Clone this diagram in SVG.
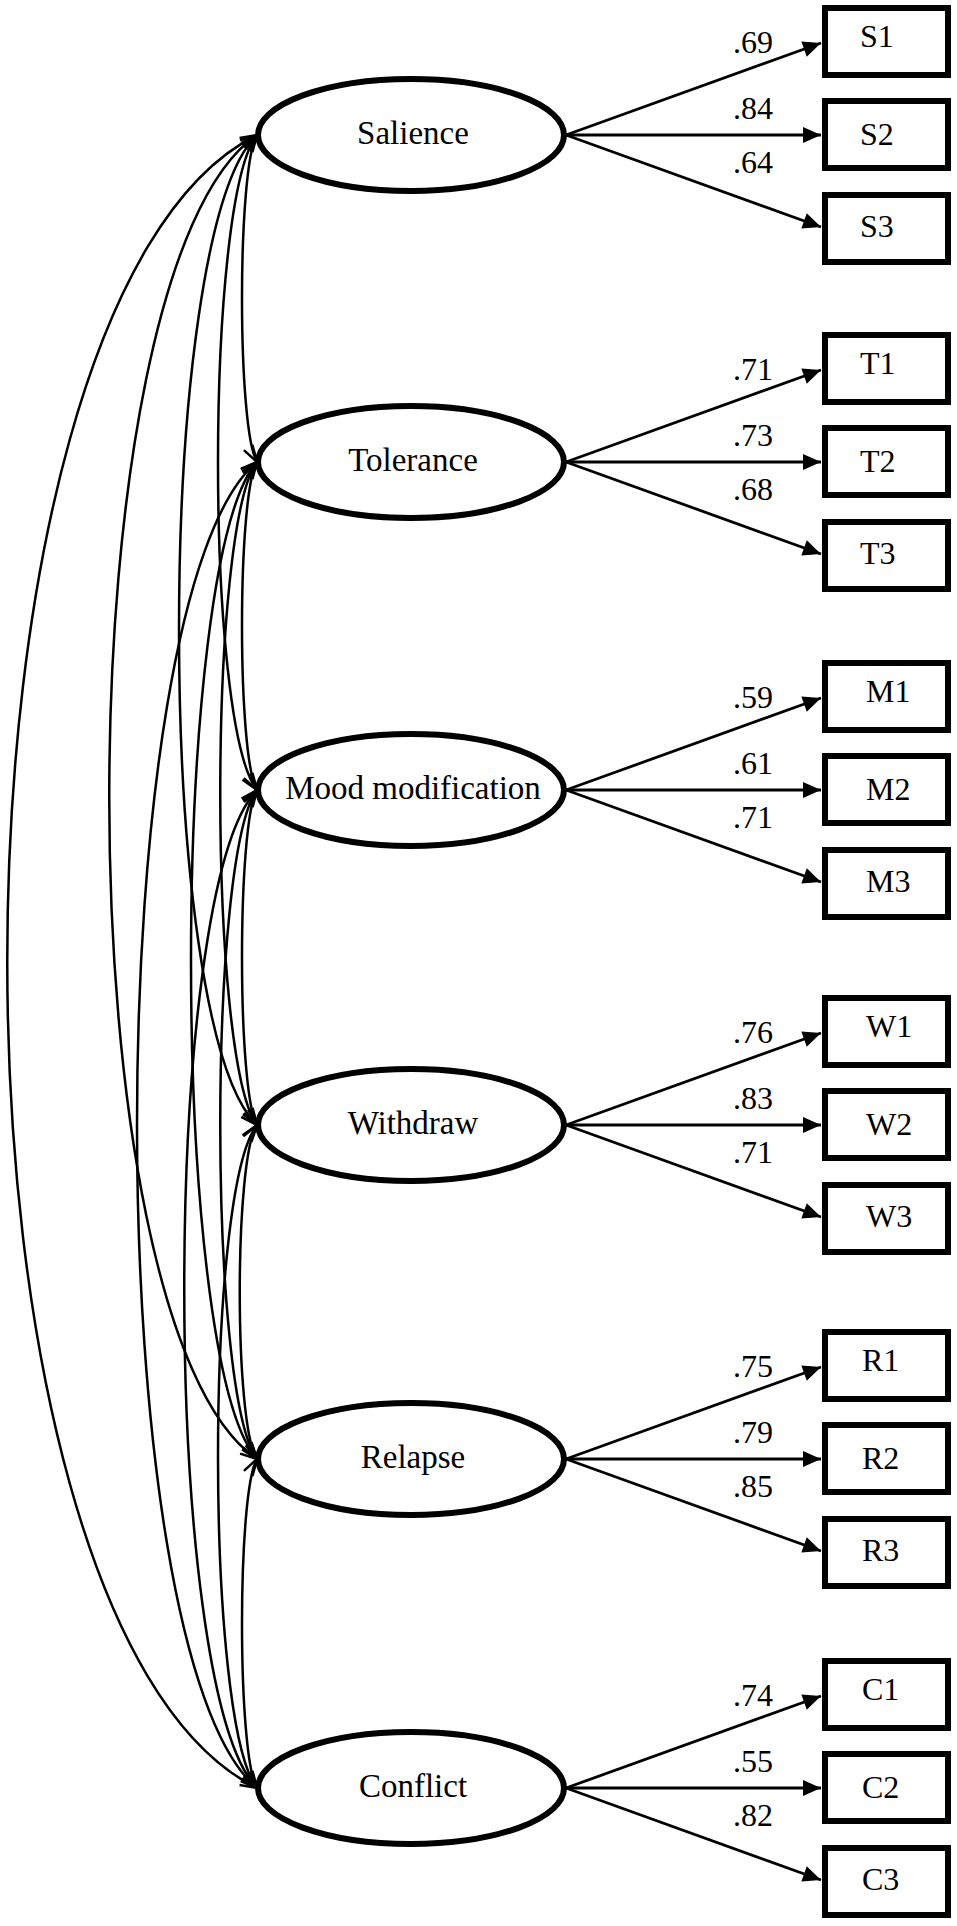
<svg xmlns="http://www.w3.org/2000/svg" width="957" height="1926" viewBox="0 0 957 1926">
<style>
.lat{fill:#fff;stroke:#000;stroke-width:6}
.box{fill:#fff;stroke:#000;stroke-width:6}
.ln{font-family:"Liberation Serif","Times New Roman",serif;font-size:33px;fill:#000;text-anchor:middle}
.bl{font-family:"Liberation Serif","Times New Roman",serif;font-size:32px;fill:#000}
.wl{font-family:"Liberation Serif","Times New Roman",serif;font-size:32px;fill:#000}
.cov{fill:none;stroke:#000;stroke-width:2.5;marker-start:url(#open);marker-end:url(#open)}
.ld{fill:none;stroke:#000;stroke-width:2.8;marker-end:url(#solid)}
</style>
<defs>
<marker id="open" markerUnits="userSpaceOnUse" markerWidth="20" markerHeight="14" refX="17" refY="7" orient="auto-start-reverse" overflow="visible">
<path d="M0,2 L17,7 L0,12" fill="none" stroke="#000" stroke-width="2.5"/>
</marker>
<marker id="solid" markerUnits="userSpaceOnUse" markerWidth="18" markerHeight="16" refX="18" refY="8" orient="auto" overflow="visible">
<path d="M0,0 L18,8 L0,16 z" fill="#000"/>
</marker>
</defs>
<rect width="957" height="1926" fill="#fff"/>
<g id="connectors">
<path class="cov" d="M257,135 C237,167.7 237,429.3 257,462"/>
<path class="cov" d="M257,135 C205,200.5 205,724.5 257,790"/>
<path class="cov" d="M257,135 C153,234 153,1026 257,1125"/>
<path class="cov" d="M257,135 C60,267.4 60,1326.6 257,1459"/>
<path class="cov" d="M257,135 C-76,300.3 -76,1622.7 257,1788"/>
<path class="cov" d="M257,462 C237,494.8 237,757.2 257,790"/>
<path class="cov" d="M257,462 C208,528.3 208,1058.7 257,1125"/>
<path class="cov" d="M257,462 C169,561.7 169,1359.3 257,1459"/>
<path class="cov" d="M257,462 C97,594.6 97,1655.4 257,1788"/>
<path class="cov" d="M257,790 C237,823.5 237,1091.5 257,1125"/>
<path class="cov" d="M257,790 C208,856.9 208,1392.1 257,1459"/>
<path class="cov" d="M257,790 C160,889.8 160,1688.2 257,1788"/>
<path class="cov" d="M257,1125 C234,1158.4 234,1425.6 257,1459"/>
<path class="cov" d="M257,1125 C205,1191.3 205,1721.7 257,1788"/>
<path class="cov" d="M257,1459 C237,1491.9 237,1755.1 257,1788"/>
<path class="ld" d="M566,135 L821,43"/>
<path class="ld" d="M566,135 L821,135"/>
<path class="ld" d="M566,135 L821,227"/>
<path class="ld" d="M566,462 L821,370"/>
<path class="ld" d="M566,462 L821,462"/>
<path class="ld" d="M566,462 L821,554"/>
<path class="ld" d="M566,790 L821,698"/>
<path class="ld" d="M566,790 L821,790"/>
<path class="ld" d="M566,790 L821,882"/>
<path class="ld" d="M566,1125 L821,1033"/>
<path class="ld" d="M566,1125 L821,1125"/>
<path class="ld" d="M566,1125 L821,1217"/>
<path class="ld" d="M566,1459 L821,1367"/>
<path class="ld" d="M566,1459 L821,1459"/>
<path class="ld" d="M566,1459 L821,1551"/>
<path class="ld" d="M566,1788 L821,1696"/>
<path class="ld" d="M566,1788 L821,1788"/>
<path class="ld" d="M566,1788 L821,1880"/>
<text class="wl" x="733" y="53">.69</text>
<text class="wl" x="733" y="119">.84</text>
<text class="wl" x="733" y="173">.64</text>
<text class="wl" x="733" y="380">.71</text>
<text class="wl" x="733" y="446">.73</text>
<text class="wl" x="733" y="500">.68</text>
<text class="wl" x="733" y="708">.59</text>
<text class="wl" x="733" y="774">.61</text>
<text class="wl" x="733" y="828">.71</text>
<text class="wl" x="733" y="1043">.76</text>
<text class="wl" x="733" y="1109">.83</text>
<text class="wl" x="733" y="1163">.71</text>
<text class="wl" x="733" y="1377">.75</text>
<text class="wl" x="733" y="1443">.79</text>
<text class="wl" x="733" y="1497">.85</text>
<text class="wl" x="733" y="1706">.74</text>
<text class="wl" x="733" y="1772">.55</text>
<text class="wl" x="733" y="1826">.82</text>
</g>
<g id="salience"><ellipse class="lat" cx="411" cy="135" rx="153" ry="56"/><text class="ln" x="413" y="144">Salience</text></g>
<g id="tolerance"><ellipse class="lat" cx="411" cy="462" rx="153" ry="56"/><text class="ln" x="413" y="471">Tolerance</text></g>
<g id="mood"><ellipse class="lat" cx="411" cy="790" rx="153" ry="56"/><text class="ln" x="413" y="799">Mood modification</text></g>
<g id="withdraw"><ellipse class="lat" cx="411" cy="1125" rx="153" ry="56"/><text class="ln" x="413" y="1134">Withdraw</text></g>
<g id="relapse"><ellipse class="lat" cx="411" cy="1459" rx="153" ry="56"/><text class="ln" x="413" y="1468">Relapse</text></g>
<g id="conflict"><ellipse class="lat" cx="411" cy="1788" rx="153" ry="56"/><text class="ln" x="413" y="1797">Conflict</text></g>
<g id="S1"><rect class="box" x="825" y="8" width="123" height="67"/><text class="bl" x="860" y="47">S1</text></g>
<g id="S2"><rect class="box" x="825" y="101" width="123" height="67"/><text class="bl" x="860" y="145">S2</text></g>
<g id="S3"><rect class="box" x="825" y="195" width="123" height="67"/><text class="bl" x="860" y="237">S3</text></g>
<g id="T1"><rect class="box" x="825" y="335" width="123" height="67"/><text class="bl" x="860" y="374">T1</text></g>
<g id="T2"><rect class="box" x="825" y="428" width="123" height="67"/><text class="bl" x="860" y="472">T2</text></g>
<g id="T3"><rect class="box" x="825" y="522" width="123" height="67"/><text class="bl" x="860" y="564">T3</text></g>
<g id="M1"><rect class="box" x="825" y="663" width="123" height="67"/><text class="bl" x="866" y="702">M1</text></g>
<g id="M2"><rect class="box" x="825" y="756" width="123" height="67"/><text class="bl" x="866" y="800">M2</text></g>
<g id="M3"><rect class="box" x="825" y="850" width="123" height="67"/><text class="bl" x="866" y="892">M3</text></g>
<g id="W1"><rect class="box" x="825" y="998" width="123" height="67"/><text class="bl" x="866" y="1037">W1</text></g>
<g id="W2"><rect class="box" x="825" y="1091" width="123" height="67"/><text class="bl" x="866" y="1135">W2</text></g>
<g id="W3"><rect class="box" x="825" y="1185" width="123" height="67"/><text class="bl" x="866" y="1227">W3</text></g>
<g id="R1"><rect class="box" x="825" y="1332" width="123" height="67"/><text class="bl" x="862" y="1371">R1</text></g>
<g id="R2"><rect class="box" x="825" y="1425" width="123" height="67"/><text class="bl" x="862" y="1469">R2</text></g>
<g id="R3"><rect class="box" x="825" y="1519" width="123" height="67"/><text class="bl" x="862" y="1561">R3</text></g>
<g id="C1"><rect class="box" x="825" y="1661" width="123" height="67"/><text class="bl" x="862" y="1700">C1</text></g>
<g id="C2"><rect class="box" x="825" y="1754" width="123" height="67"/><text class="bl" x="862" y="1798">C2</text></g>
<g id="C3"><rect class="box" x="825" y="1848" width="123" height="67"/><text class="bl" x="862" y="1890">C3</text></g>
</svg>
